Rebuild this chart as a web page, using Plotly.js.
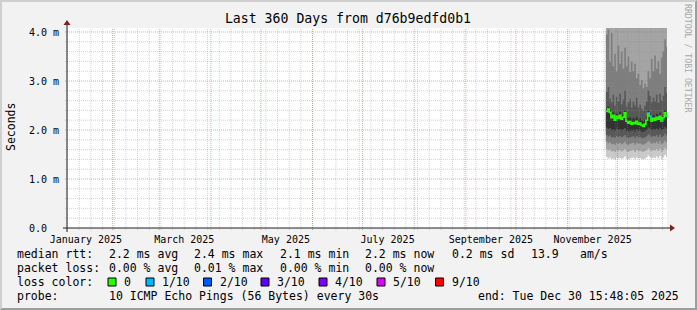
<!DOCTYPE html>
<html><head><meta charset="utf-8">
<script src="https://cdn.plot.ly/plotly-3.0.1.min.js"></script>
<style>
html,body{margin:0;padding:0;background:#f2f2f2;}
#wrap{position:relative;width:697px;height:310px;overflow:hidden;}
#chart{position:absolute;left:0;top:0;width:697px;height:310px;}
#frame{position:absolute;left:0;top:0;width:697px;height:310px;box-sizing:border-box;border-top:2px solid #cfcfcf;border-left:2px solid #cfcfcf;border-right:2px solid #9e9e9e;border-bottom:2px solid #9e9e9e;pointer-events:none;}
</style></head><body>
<div id="wrap"><div id="chart"></div><div id="frame"></div></div>
<script>
// ---------------- DATA ----------------
const startTime = '2025-01-04 15:48:05';
const endTime   = '2025-12-30 15:48:05';
const days = ['2025-11-24','2025-11-25','2025-11-26','2025-11-27','2025-11-28','2025-11-29','2025-11-30',
  '2025-12-01','2025-12-02','2025-12-03','2025-12-04','2025-12-05','2025-12-06','2025-12-07','2025-12-08',
  '2025-12-09','2025-12-10','2025-12-11','2025-12-12','2025-12-13','2025-12-14','2025-12-15','2025-12-16',
  '2025-12-17','2025-12-18','2025-12-19','2025-12-20','2025-12-21','2025-12-22','2025-12-23','2025-12-24',
  '2025-12-25','2025-12-26','2025-12-27','2025-12-28','2025-12-29','2025-12-30'];
// median rtt (ms)
const medianRtt = [2.38,2.43,2.36,2.25,2.30,2.20,2.28,2.24,2.30,2.22, 2.26,2.35,2.18,2.14,2.17,2.12,2.15,2.13,2.18,2.12,
  2.14,2.10,2.07,2.12,2.20,2.34,2.28,2.18,2.24,2.20, 2.26,2.22,2.28,2.18,2.25,2.35,2.28];
// lost pings out of 10
const lostPings = [0,0,0,0,0,0,0,0,0,0, 0,0,0,0,0,0,0,0,0,0, 0,0,0,0,0,1,1,0,0,0, 0,0,0,1,0,0,0];
// sorted ping rtts (ms), ping1 = fastest ... ping10 = slowest
const ping1 = [1.45,1.42,1.44,1.41,1.42,1.40,1.44,1.42,1.43,1.41, 1.43,1.46,1.41,1.40,1.42,1.43,1.44,1.41,1.44,1.42,
  1.43,1.41,1.40,1.42,1.44,1.48,1.45,1.42,1.44,1.43, 1.46,1.42,1.47,1.41,1.44,1.49,1.45];
const ping2 = [1.61,1.58,1.60,1.56,1.57,1.55,1.59,1.57,1.59,1.56, 1.58,1.61,1.56,1.55,1.57,1.58,1.59,1.55,1.59,1.57,
  1.58,1.56,1.55,1.57,1.59,1.63,1.60,1.57,1.59,1.58, 1.61,1.57,1.62,1.56,1.59,1.64,1.60];
const ping3 = [1.76,1.73,1.75,1.71,1.72,1.70,1.74,1.72,1.74,1.71, 1.73,1.76,1.71,1.70,1.72,1.73,1.74,1.70,1.74,1.72,
  1.73,1.71,1.70,1.72,1.74,1.78,1.75,1.72,1.74,1.73, 1.76,1.72,1.77,1.71,1.74,1.78,1.75];
const ping4 = [1.90,1.87,1.89,1.85,1.86,1.84,1.88,1.86,1.88,1.85, 1.87,1.90,1.85,1.84,1.85,1.86,1.87,1.84,1.88,1.85,
  1.86,1.84,1.83,1.85,1.87,1.92,1.89,1.86,1.88,1.87, 1.90,1.86,1.91,1.85,1.88,1.93,1.89];
const ping5 = [2.05,2.02,2.04,1.99,2.01,1.98,2.03,2.00,2.02,1.99, 2.01,2.04,1.98,1.97,1.99,1.98,2.00,1.97,2.01,1.98,
  1.99,1.97,1.96,1.98,2.00,2.05,2.03,1.99,2.02,2.00, 2.03,2.00,2.04,1.99,2.02,2.06,2.03];
const ping6 = [2.44,2.48,2.42,2.33,2.36,2.29,2.34,2.31,2.37,2.30, 2.33,2.40,2.27,2.24,2.26,2.22,2.25,2.23,2.27,2.22,
  2.24,2.20,2.18,2.22,2.28,2.39,2.35,2.27,2.31,2.28, 2.33,2.30,2.35,2.27,2.32,2.41,2.35];
const ping7 = [2.78,2.88,2.64,2.56,2.72,2.50,2.68,2.58,2.74,2.52, 2.62,2.80,2.48,2.56,2.62,2.46,2.58,2.50,2.66,2.46,
  2.52,2.44,2.40,2.50,2.58,2.80,2.70,2.56,2.66,2.58, 2.72,2.55,2.74,2.60,2.70,2.88,2.76];
const ping8 = [3.95,4.05,3.40,3.98,3.30,3.55,3.20,3.72,3.35,3.60, 3.25,3.68,3.30,3.50,3.18,3.40,3.20,3.35,3.05,3.15,
  2.92,3.02,2.85,2.95,2.88,3.20,3.05,3.45,3.20,3.52, 3.25,3.40,3.15,3.48,3.60,3.85,3.70];
const ping9 = [4.90,5.30,4.60,5.10,4.70,4.80,4.50,5.00,4.60,4.90, 4.50,4.80,4.60,4.70,4.40,4.60,4.50,4.60,4.30,4.40,
  4.30,4.40,4.30,4.30,4.30,4.50,4.40,4.60,4.50,4.70, 4.50,4.60,4.40,4.60,4.80,5.00,4.90];
const ping10 = [7.8,8.6,7.1,8.2,7.4,7.6,6.9,8.0,7.2,7.7, 6.8,7.5,7.0,7.3,6.6,7.0,6.8,7.1,6.4,6.7,
  6.3,6.6,6.2,6.4,6.3,6.9,6.6,7.2,6.9,7.4, 6.9,7.1,6.7,7.2,7.6,8.1,7.8];

const monthTickDates  = ['2025-01-16','2025-03-16','2025-05-16','2025-07-16','2025-09-16','2025-11-16'];
const monthTickLabels = ['January 2025','March 2025','May 2025','July 2025','September 2025','November 2025'];
const yTickVals   = [0,1,2,3,4];
const yTickLabels = ['0.0\u00a0\u00a0','1.0 m','2.0 m','3.0 m','4.0 m'];

const lossLevels = [0,1,2,3,4,5,9];
const lossLabels = ['0','1/10','2/10','3/10','4/10','5/10','9/10'];
const lossColors = ['#26ff00','#00b8ff','#0059ff','#5e00ff','#7e00ff','#dd00ff','#ff0000'];

const rttLabel = 'median rtt:';
const rttStats = ['2.2 ms avg','2.4 ms max','2.1 ms min','2.2 ms now','0.2 ms sd','13.9','am/s'];
const lossLabel = 'packet loss:';
const lossStats = ['0.00 % avg','0.01 % max','0.00 % min','0.00 % now'];
const colorLabel = 'loss color:';
const probeLabel = 'probe:';
const probeText = '10 ICMP Echo Pings (56 Bytes) every 30s';
const endText = 'end: Tue Dec 30 15:48:05 2025';
const titleText = 'Last 360 Days from d76b9edfd0b1';
const yLabel = 'Seconds';
const watermark = 'RRDTOOL / TOBI OETIKER';

// ---------------- LAYOUT HELPERS ----------------
const L = 67, T = 28, W = 600, H = 200;
const px = x => (x - L) / W;
const py = y => (T + H - y) / H;
const FONT = 'DejaVu Sans Mono';

const pings = [ping1,ping2,ping3,ping4,ping5,ping6,ping7,ping8,ping9,ping10];
const xs = days.concat([endTime]);
const ext = a => a.concat([a[a.length-1]]);

const traces = [];
const half = pings.length / 2;
for (let k = 1; k <= half; k++) {
  const c = Math.floor(190 / half * (half - k)) + 50;
  const hex = c.toString(16).padStart(2,'0');
  const col = '#' + hex + hex + hex;
  traces.push({x: xs, y: ext(pings[k-1]), mode:'lines', line:{width:0, shape:'hv'}, hoverinfo:'skip', showlegend:false});
  traces.push({x: xs, y: ext(pings[pings.length-k]), mode:'lines', fill:'tonexty', fillcolor: col,
    line:{width:0, shape:'hv'}, hoverinfo:'skip', showlegend:false});
}
function lossIdx(n){ let idx = 0; lossLevels.forEach((l,i)=>{ if (n >= l) idx = i; }); return idx; }
traces.push({x: xs, y: ext(medianRtt), mode:'lines', line:{color: lossColors[0], width:1.6, shape:'hv'}, hoverinfo:'skip', showlegend:false});
for (let li = 1; li < lossLevels.length; li++) {
  const sx = [], sy = [];
  medianRtt.forEach((m,i) => {
    if (lostPings[i] > 0 && lossIdx(lostPings[i]) === li) {
      sx.push(days[i], xs[i+1], null); sy.push(m, m, null);
    }
  });
  if (sx.length) traces.push({x: sx, y: sy, mode:'lines', line:{color: lossColors[li], width:2}, hoverinfo:'skip', showlegend:false});
}

// ---------------- GRID (drawn above smoke, like rrdtool) ----------------
const shapes = [];
const minorCol = 'rgba(143,143,143,0.38)', majorCol = 'rgba(222,79,79,0.5)';
const DAY = 86400000;
const t1 = new Date('2025-12-30T15:48:05Z').getTime();
const iso = t => new Date(t).toISOString().slice(0,19).replace('T',' ');
for (let t = new Date('2025-01-05T00:00:00Z').getTime(); t < t1; t += 7*DAY) {
  shapes.push({type:'line', layer:'above', xref:'x', yref:'paper', x0: iso(t), x1: iso(t), y0: -2/H, y1: 1,
    line:{color: minorCol, width:1, dash:'1px,1px'}});
}
for (let m = 1; m < 12; m++) {
  const t = Date.UTC(2025, m, 1);
  shapes.push({type:'line', layer:'above', xref:'x', yref:'paper', x0: iso(t), x1: iso(t), y0: -2/H, y1: 1,
    line:{color: majorCol, width:1, dash:'1px,1px'}});
}
for (let j = 1; j <= 20; j++) {
  const v = j * 0.2;
  const major = (j % 5 === 0);
  shapes.push({type:'line', layer:'above', xref:'paper', yref:'y', x0: -2/W, x1: 1, y0: v, y1: v,
    line:{color: major ? majorCol : minorCol, width:1, dash:'1px,1px'}});
}
// axes with arrows
const axisCol = '#1f1f1f', arrowCol = '#7f1f1f';
shapes.push({type:'line', layer:'above', xref:'paper', yref:'paper', x0: px(63), x1: px(671), y0: 0, y1: 0, line:{color: axisCol, width:1}});
shapes.push({type:'line', layer:'above', xref:'paper', yref:'paper', x0: 0, x1: 0, y0: py(232), y1: py(24), line:{color: axisCol, width:1}});
shapes.push({type:'path', layer:'above', xref:'paper', yref:'paper',
  path: `M ${px(670)} ${py(224.5)} L ${px(670)} ${py(231.5)} L ${px(675)} ${py(228)} Z`, fillcolor: arrowCol, line:{width:0}});
shapes.push({type:'path', layer:'above', xref:'paper', yref:'paper',
  path: `M ${px(63.5)} ${py(25)} L ${px(70.5)} ${py(25)} L ${px(67)} ${py(20)} Z`, fillcolor: arrowCol, line:{width:0}});

// ---------------- LEGEND TEXT ----------------
const ann = [];
const txt = (x, y, s, opts={}) => ann.push(Object.assign({xref:'paper', yref:'paper', x: px(x), y: py(y), text: s,
  showarrow:false, xanchor:'left', yanchor:'middle', borderpad:0, font:{family: FONT, size: 11.5, color:'#000'}}, opts));
txt(16, 254, rttLabel);
const rttX = [108,193,279,364.4,451,530,579];
rttStats.forEach((s,i) => txt(rttX[i], 254, s));
txt(16, 268, lossLabel);
lossStats.forEach((s,i) => txt(rttX[i], 268, s));
txt(16, 282, colorLabel);
const boxX = [108,146,203.5,261,319,377,435.5];
lossLabels.forEach((s,i) => {
  shapes.push({type:'rect', layer:'above', xref:'paper', yref:'paper', x0: px(boxX[i]), x1: px(boxX[i]+8),
    y0: py(286), y1: py(278), fillcolor: lossColors[i], line:{color:'#000', width:1}});
  txt(boxX[i] + 15, 282, s);
});
txt(16, 296, probeLabel);
txt(108, 296, probeText);
txt(680, 296, endText, {xanchor:'right'});
// y label
ann.push({xref:'paper', yref:'paper', x: px(11), y: py(127), text: yLabel, textangle: -90, showarrow:false,
  xanchor:'center', yanchor:'middle', font:{family: FONT, size: 11.5, color:'#000'}});
// watermark
ann.push({xref:'paper', yref:'paper', x: px(688), y: py(58), text: watermark, textangle: 90, showarrow:false,
  xanchor:'center', yanchor:'middle', font:{family: FONT, size: 8.2, color:'#a8a8a8'}});

const layout = {
  width: 697, height: 310,
  margin: {l: L, r: 697 - L - W, t: T, b: 310 - T - H, pad: 0},
  paper_bgcolor: '#f2f2f2', plot_bgcolor: '#ffffff',
  showlegend: false,
  title: {text: titleText, x: 348/697, xref:'container', xanchor:'center', y: 1 - 18/310, yref:'container', yanchor:'middle',
    font:{family: FONT, size: 13.2, color:'#000'}},
  xaxis: {type:'date', range:[startTime, endTime], showgrid:false, zeroline:false, showline:false,
    tickmode:'array', tickvals: monthTickDates, ticktext: monthTickLabels,
    ticks:'outside', ticklen:2, tickcolor:'rgba(0,0,0,0)',
    tickfont:{family: FONT, size: 10, color:'#000'}, fixedrange:true},
  yaxis: {range:[0, 200/49], showgrid:false, zeroline:false, showline:false,
    tickmode:'array', tickvals: yTickVals, ticktext: yTickLabels,
    ticks:'outside', ticklen:5, tickcolor:'rgba(0,0,0,0)',
    tickfont:{family: FONT, size: 10, color:'#000'}, fixedrange:true},
  shapes: shapes, annotations: ann
};
Plotly.newPlot('chart', traces, layout, {staticPlot:true, displayModeBar:false});
</script>
</body></html>
